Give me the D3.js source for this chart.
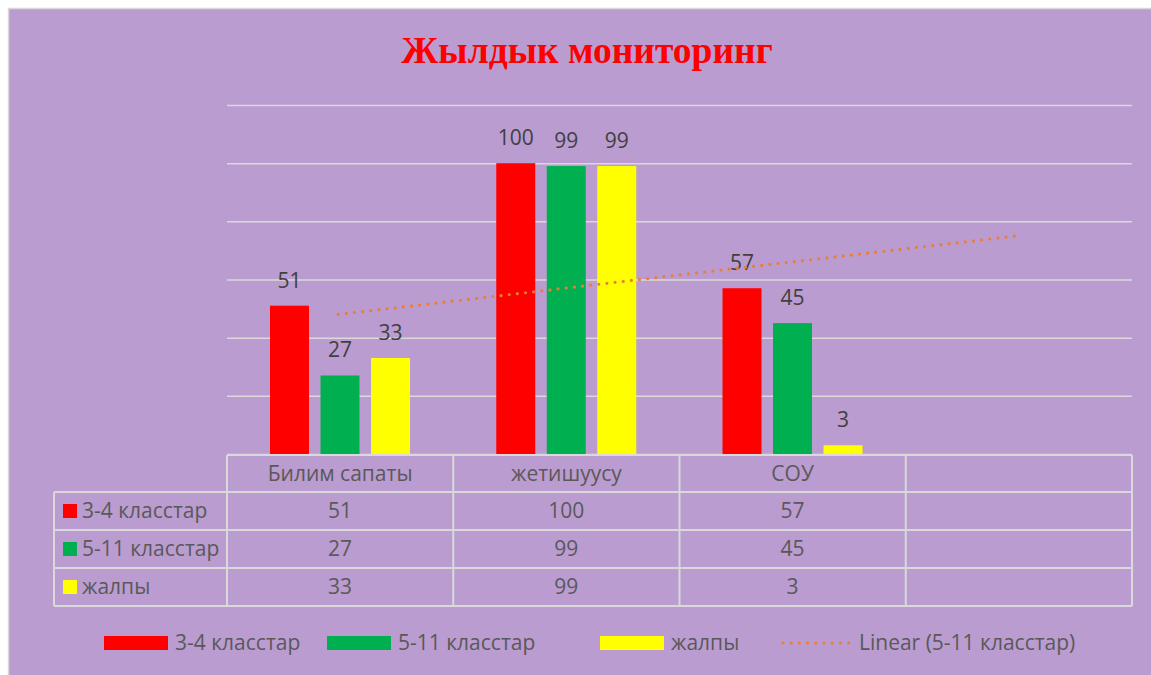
<!DOCTYPE html>
<html lang="ky">
<head>
<meta charset="UTF-8" />
<title>Жылдык мониторинг</title>
<script src="https://d3js.org/d3.v7.min.js"></script>
<style>
    body { margin: 0; background: #fff; }
    text { font-family: "Open Sans", "Noto Sans", sans-serif; }
</style>
</head>
<body>
<div class="canvas"></div>
<script>
    // data
    const categories = ["Билим сапаты", "жетишуусу", "СОУ", ""];
    const seriesNames = ["3-4 класстар", "5-11 класстар", "жалпы"];
    const values34 = [51, 100, 57];
    const values511 = [27, 99, 45];
    const valuesAll = [33, 99, 3];
    const yTicks = [0, 20, 40, 60, 80, 100, 120];
    const colors = ["#ff0000", "#00b050", "#ffff00"];
    const trendColor = "#ed7d31";

    const series = [values34, values511, valuesAll];

    const width = 1151;
    const height = 675;
    const bg = "#ba9cd0";
    const lineCol = "#d9d9d9";
    const fs = "21px";

    const svg = d3.select(".canvas").append("svg")
        .attr("width", width).attr("height", height);

    svg.append("rect")
        .attr("x", 8.5).attr("y", 8.5)
        .attr("width", width + 10).attr("height", height + 10)
        .attr("fill", bg).attr("stroke", lineCol).attr("stroke-width", 1.5);

    // title
    svg.append("text")
        .attr("x", 587).attr("y", 63)
        .attr("text-anchor", "middle")
        .style("font-family", "'Liberation Serif', 'Times New Roman', serif")
        .style("font-weight", "bold")
        .style("font-size", "37.5px")
        .attr("fill", "#ff0000")
        .text("Жылдык мониторинг");

    const plotL = 227, plotR = 1132, plotT = 105, plotB = 454;

    const x0 = d3.scaleBand().domain(d3.range(categories.length))
        .range([plotL, plotR]).padding(0);
    const x1 = d3.scaleBand().domain(d3.range(seriesNames.length))
        .range([43, 183]).paddingInner(0.228);
    const y = d3.scaleLinear().domain([0, 120]).range([plotB, plotT]);

    // gridlines
    const yAxis = d3.axisLeft(y).tickValues(yTicks)
        .tickSize(-(plotR - plotL)).tickFormat("");
    const yg = svg.append("g").attr("transform", `translate(${plotL},0)`).call(yAxis);
    yg.select(".domain").remove();
    yg.selectAll(".tick line").attr("stroke", lineCol).attr("stroke-width", 1.5);

    // bars
    series.forEach((vals, si) => {
        const g = svg.append("g");
        g.selectAll("rect").data(vals).enter().append("rect")
            .attr("x", (d, i) => x0(i) + x1(si))
            .attr("y", (d) => y(d))
            .attr("width", x1.bandwidth())
            .attr("height", (d) => y(0) - y(d))
            .attr("fill", colors[si]);
        g.selectAll("text").data(vals).enter().append("text")
            .attr("x", (d, i) => x0(i) + x1(si) + x1.bandwidth() / 2)
            .attr("y", (d) => y(d) - 18)
            .attr("text-anchor", "middle")
            .attr("fill", "#404040")
            .style("font-size", fs)
            .text((d) => d);
    });

    // linear trend of 5-11, forward one period
    const xs = values511.map((d, i) => i + 1);
    const mx = d3.mean(xs), my = d3.mean(values511);
    const slope = d3.sum(xs, (xv, i) => (xv - mx) * (values511[i] - my)) /
        d3.sum(xs, (xv) => (xv - mx) ** 2);
    const icpt = my - slope * mx;
    const trendPts = [1, categories.length].map((k) => [k, icpt + slope * k]);
    const line = d3.line()
        .x((d) => x0(d[0] - 1) + x0.bandwidth() / 2 - 2)
        .y((d) => y(d[1]));
    svg.append("path")
        .attr("d", line(trendPts))
        .attr("fill", "none")
        .attr("stroke", trendColor)
        .attr("stroke-width", 3.2)
        .attr("stroke-linecap", "round")
        .attr("stroke-dasharray", "0 8.2");

    // data table
    const rowH = [455, 492, 530, 568, 606];
    const tableL = 54;
    const tg = svg.append("g")
        .attr("stroke", lineCol).attr("stroke-width", 2).attr("fill", "none");
    // header row
    tg.append("line").attr("x1", plotL).attr("x2", plotR).attr("y1", rowH[0]).attr("y2", rowH[0]);
    rowH.slice(1).forEach((yy) => {
        tg.append("line").attr("x1", tableL).attr("x2", plotR).attr("y1", yy).attr("y2", yy);
    });
    tg.append("line").attr("x1", tableL).attr("x2", tableL).attr("y1", rowH[1]).attr("y2", rowH[4]);
    d3.range(categories.length + 1).forEach((i) => {
        const xx = i < categories.length ? x0(i) : plotR;
        tg.append("line").attr("x1", xx).attr("x2", xx).attr("y1", rowH[0]).attr("y2", rowH[4]);
    });

    const txtCol = "#595959";
    svg.append("g").selectAll("text").data(categories).enter().append("text")
        .attr("x", (d, i) => x0(i) + x0.bandwidth() / 2)
        .attr("y", (rowH[0] + rowH[1]) / 2 + 7)
        .attr("text-anchor", "middle")
        .attr("fill", txtCol)
        .style("font-size", fs)
        .text((d) => d);

    series.forEach((vals, si) => {
        const cy = (rowH[si + 1] + rowH[si + 2]) / 2;
        svg.append("rect")
            .attr("x", 63).attr("y", cy - 7).attr("width", 14).attr("height", 14)
            .attr("fill", colors[si]);
        svg.append("text")
            .attr("x", 82).attr("y", cy + 7)
            .attr("fill", txtCol).style("font-size", fs)
            .text(seriesNames[si]);
        svg.append("g").selectAll("text").data(vals).enter().append("text")
            .attr("x", (d, i) => x0(i) + x0.bandwidth() / 2)
            .attr("y", cy + 7)
            .attr("text-anchor", "middle")
            .attr("fill", txtCol)
            .style("font-size", fs)
            .text((d) => d);
    });

    // legend
    const legY = 643;
    const legX = [104, 327, 600];
    seriesNames.forEach((name, si) => {
        svg.append("rect")
            .attr("x", legX[si]).attr("y", legY - 7)
            .attr("width", 64).attr("height", 14)
            .attr("fill", colors[si]);
        svg.append("text")
            .attr("x", legX[si] + 71).attr("y", legY + 7)
            .attr("fill", txtCol).style("font-size", fs)
            .text(name);
    });
    svg.append("line")
        .attr("x1", 783).attr("x2", 852).attr("y1", legY).attr("y2", legY)
        .attr("stroke", trendColor).attr("stroke-width", 3.2)
        .attr("stroke-linecap", "round").attr("stroke-dasharray", "0 8.2");
    svg.append("text")
        .attr("x", 859).attr("y", legY + 7)
        .attr("fill", txtCol).style("font-size", fs)
        .text("Linear (" + seriesNames[1] + ")");
</script>
</body>
</html>
